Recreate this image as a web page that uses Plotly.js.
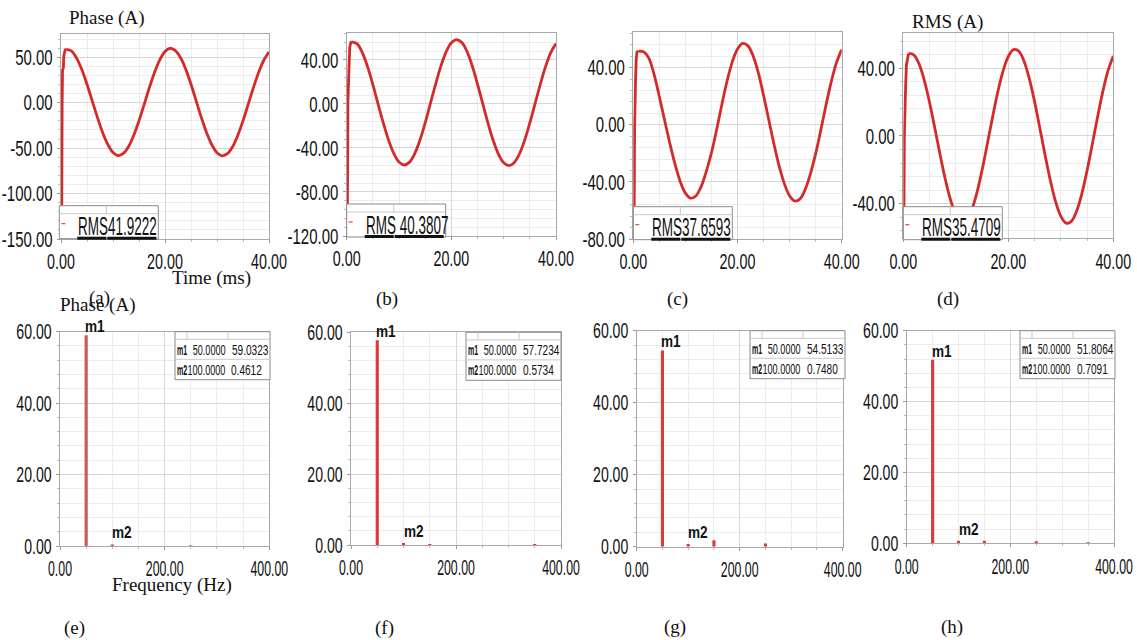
<!DOCTYPE html>
<html><head><meta charset="utf-8">
<script src="https://cdn.plot.ly/plotly-3.0.1.min.js"></script>
<style>html,body{margin:0;padding:0;background:#fff;} #chart{width:1137px;height:640px;}</style>
</head><body><div id="chart"></div>
<script>
// ---------------- DATA ----------------
const timeMs = [1,2,3,4,5,6,7,8,9,10,11,12,13,14,15,16,17,18,19,20,21,22,23,24,25,26,27,28,29,30,31,32,33,34,35,36,37,38,39,40];
const currentA = [58.6,56.9,49.0,36.4,20.2,2.0,-16.2,-32.8,-46.0,-54.8,-58.2,-55.9,-48.3,-35.9,-19.9,-1.9,16.6,33.5,47.1,56.2,59.8,57.3,49.4,36.6,20.2,1.8,-16.5,-33.0,-46.3,-55.1,-58.5,-56.2,-48.5,-36.0,-20.0,-1.9,16.4,33.1,46.6,55.6];
const currentB = [56.4,54.5,46.4,33.6,17.5,-0.3,-17.4,-32.9,-45.0,-52.8,-55.5,-52.9,-45.2,-32.8,-17.2,0.5,18.0,34.3,47.2,55.6,58.4,55.7,47.5,34.4,18.0,0.2,-17.5,-33.2,-45.6,-53.5,-56.1,-53.4,-45.6,-33.1,-17.3,0.3,17.8,33.9,46.6,54.8];
const currentC = [51.5,51.0,46.5,35.0,19.6,3.3,-12.8,-27.6,-39.7,-47.9,-51.4,-49.9,-43.5,-32.8,-19.6,-3.5,14.2,30.6,44.0,53.0,56.9,55.2,48.1,36.3,20.6,3.5,-13.6,-29.0,-41.4,-49.8,-53.4,-51.9,-45.3,-34.4,-20.2,-3.6,14.0,30.2,43.5,52.6];
const currentD = [48.8,48.0,42.6,32.9,19.8,4.7,-10.9,-25.6,-37.8,-46.4,-50.5,-49.6,-43.9,-33.8,-20.3,-4.8,11.1,26.0,38.4,47.0,51.1,50.1,44.2,33.9,20.4,4.8,-11.2,-26.2,-38.7,-47.4,-51.5,-50.5,-44.5,-34.2,-20.5,-4.9,11.2,26.2,38.6,47.3];

const startT_A = [0,0.12,0.22,0.3,0.45,0.55,0.8,1.0];
const startI_A = [0,-150,0,36,38,52,58,58.6];
const startT_B = [0,0.12,0.22,0.3,0.45,0.6,0.8,1.0];
const startI_B = [0,-120,0,30,35,52,56,56.4];
const startT_C = [0,0.15,0.25,0.35,0.45,0.55,0.7,1.0];
const startI_C = [0,-80,0,30,33,45,51,51.5];
const startT_D = [0,0.1,0.2,0.3,0.45,0.6,0.8,1.0];
const startI_D = [0,-60,0,27,30,42,47,48.8];

const rmsText = ['RMS41.9222','RMS 40.3807','RMS37.6593','RMS35.4709'];

const freqE = [50,100,250];          const ampE = [59.0323,0.4612,0.2];
const freqF = [50,100,150,350];      const ampF = [57.7234,0.5734,0.3,0.3];
const freqG = [50,100,150,250];      const ampG = [54.5133,0.7480,1.8,0.9];
const freqH = [50,100,150,250,350];  const ampH = [51.8064,0.7091,0.7,0.6,0.3];

const markerNames = ['m1','m2'];
const markerX = [50.0000,100.0000];

// tick values
const yTicksA = [-150,-100,-50,0,50];
const yTicksB = [-120,-80,-40,0,40];
const yTicksC = [-80,-40,0,40];
const yTicksD = [-40,0,40];
const yTicksFFT = [0,20,40,60];
const xTicksTime = [0,20,40];
const xTicksFreq = [0,200,400];

const panelLetters = ['(a)','(b)','(c)','(d)','(e)','(f)','(g)','(h)'];

// ---------------- LAYOUT ----------------
const W = 1137, H = 640;
const fx = px => px / W;
const fy = py => 1 - py / H;
const fontSans = "'Liberation Sans',Arial,sans-serif";
const fontSerif = "'Liberation Serif','Times New Roman',serif";
const red = '#d42a2a';

const panels = [
  {x0:61,   x1:269,    y0:34,   y1:239,   yr:[-150,75.5], yt:yTicksA,   mdt:10, kind:'t'},
  {x0:346.7,x1:556,    y0:33,   y1:236,   yr:[-120,64.4], yt:yTicksB,   mdt:8,  kind:'t'},
  {x0:633.3,x1:841.7,  y0:32.3, y1:239,   yr:[-80,64.7],  yt:yTicksC,   mdt:8,  kind:'t'},
  {x0:903.3,x1:1113.3, y0:33.3, y1:238.3, yr:[-60.5,60.7],yt:yTicksD,   mdt:8,  kind:'t'},
  {x0:60,   x1:269.3,  y0:331.7,y1:546,   yr:[0,60],      yt:yTicksFFT, mdt:4,  kind:'f'},
  {x0:351,  x1:561,    y0:332.3,y1:545,   yr:[0,60],      yt:yTicksFFT, mdt:4,  kind:'f'},
  {x0:636.7,x1:842.7,  y0:330.7,y1:546.7, yr:[0,60],      yt:yTicksFFT, mdt:4,  kind:'f'},
  {x0:906.7,x1:1114,   y0:330.7,y1:543.3, yr:[0,60],      yt:yTicksFFT, mdt:4,  kind:'f'}
];

const layout = {
  width: W, height: H, margin:{l:0,r:0,t:0,b:0},
  paper_bgcolor:'#fff', plot_bgcolor:'#fff', showlegend:false,
  shapes:[], annotations:[]
};

panels.forEach((p,i)=>{
  const k = i===0 ? '' : String(i+1);
  const isT = p.kind==='t';
  const xt = isT ? xTicksTime : xTicksFreq;
  layout['xaxis'+k] = {
    domain:[fx(p.x0), fx(p.x1)], anchor:'y'+k,
    range: isT ? [0,40] : [0,400],
    tickmode:'array', tickvals:xt, ticktext:xt.map(v=>v.toFixed(2)),
    showline:true, linecolor:'#a8a8a8', linewidth:1, mirror:true,
    ticks:'outside', ticklen:3, tickcolor:'#999',
    showgrid:true, gridcolor:'#d6d6d6', zeroline:false,
    tickfont:{family:fontSans, size:22, color:'#111'}, ticklabeloverflow:'allow',
    minor:{dtick: isT ? 5 : 50, tick0:0, showgrid:true, gridcolor:'#ececec', ticks:'outside', ticklen:2, tickcolor:'#bbb'},
    fixedrange:true, automargin:false
  };
  layout['yaxis'+k] = {
    domain:[fy(p.y1), fy(p.y0)], anchor:'x'+k,
    range:p.yr, tickmode:'array', tickvals:p.yt, ticktext:p.yt.map(v=>v.toFixed(2)),
    showline:true, linecolor:'#a8a8a8', linewidth:1, mirror:true,
    ticks:'outside', ticklen:3, tickcolor:'#999',
    showgrid:true, gridcolor:'#d6d6d6', zeroline:false,
    tickfont:{family:fontSans, size:22, color:'#111'}, ticklabeloverflow:'allow',
    minor:{dtick:p.mdt, tick0:0, showgrid:true, gridcolor:'#ececec', ticks:'outside', ticklen:2, tickcolor:'#bbb'},
    fixedrange:true, automargin:false
  };
});

// ---------------- TRACES ----------------
const traces = [];
const waves = [currentA, currentB, currentC, currentD];
const startsT = [startT_A, startT_B, startT_C, startT_D];
const startsI = [startI_A, startI_B, startI_C, startI_D];
waves.forEach((w,i)=>{
  const k = i===0 ? '' : String(i+1);
  traces.push({type:'scatter', mode:'lines', x:startsT[i], y:startsI[i], xaxis:'x'+k, yaxis:'y'+k,
    line:{color:red, width:2.8}, hoverinfo:'skip'});
  traces.push({type:'scatter', mode:'lines', x:timeMs, y:w, xaxis:'x'+k, yaxis:'y'+k,
    line:{color:red, width:2.8, shape:'spline', smoothing:1}, hoverinfo:'skip'});
});
const ffts = [[freqE,ampE],[freqF,ampF],[freqG,ampG],[freqH,ampH]];
const barColors = ['#cf5858','#dc3a3a','#dc3a3a','#dc3a3a'];
ffts.forEach((f,i)=>{
  const k = String(i+5);
  traces.push({type:'bar', x:f[0], y:f[1], width:6, xaxis:'x'+k, yaxis:'y'+k,
    marker:{color:barColors[i], line:{width:0}}, hoverinfo:'skip'});
});

// ---------------- RMS boxes ----------------
const sh = layout.shapes, an = layout.annotations;
const squeeze = [];   // horizontal squeeze factor for each annotation (narrow font look)
function addAnn(o, f){ an.push(o); squeeze.push(f); }

const rmsBoxes = [[59.3,205.7],[346.7,204],[633.3,206.7],[903.3,206.7]];
rmsBoxes.forEach((b,i)=>{
  const L=b[0], T=b[1], R=L+99, B=T+33;
  sh.push({type:'rect', xref:'paper', yref:'paper', x0:fx(L), x1:fx(R), y0:fy(B), y1:fy(T),
    fillcolor:'#fff', line:{color:'#8a8a8a', width:1}, layer:'above'});
  sh.push({type:'line', xref:'paper', yref:'paper', x0:fx(L), x1:fx(R), y0:fy(T+8), y1:fy(T+8),
    line:{color:'#c8c8c8', width:1}, layer:'above'});
  sh.push({type:'line', xref:'paper', yref:'paper', x0:fx(L+47), x1:fx(L+47), y0:fy(T+8), y1:fy(T),
    line:{color:'#c8c8c8', width:1}, layer:'above'});
  sh.push({type:'line', xref:'paper', yref:'paper', x0:fx(L+2), x1:fx(L+6), y0:fy(T+18), y1:fy(T+18),
    line:{color:red, width:1}, layer:'above'});
  sh.push({type:'rect', xref:'paper', yref:'paper', x0:fx(L+18), x1:fx(L+47), y0:fy(B+1), y1:fy(B-2),
    fillcolor:'#111', line:{width:0}, layer:'above'});
  sh.push({type:'rect', xref:'paper', yref:'paper', x0:fx(L+48), x1:fx(L+97), y0:fy(B+1), y1:fy(B-2),
    fillcolor:'#111', line:{width:0}, layer:'above'});
  addAnn({xref:'paper', yref:'paper', x:fx(L+17), y:fy(T+20.5), xanchor:'left', yanchor:'middle', align:'left',
    text:rmsText[i], showarrow:false, font:{family:fontSans, size:25, color:'#111'}}, 0.54);
});

// ---------------- Marker tables & labels ----------------
const tables = [[175,331.7],[466,332.3],[750,330.7],[1020,330.7]];
ffts.forEach((f,i)=>{
  const k = String(i+5);
  const L=tables[i][0], T=tables[i][1], R=L+95, B=T+48;
  sh.push({type:'rect', xref:'paper', yref:'paper', x0:fx(L), x1:fx(R), y0:fy(B), y1:fy(T),
    fillcolor:'#fff', line:{color:'#8a8a8a', width:1}, layer:'above'});
  sh.push({type:'line', xref:'paper', yref:'paper', x0:fx(L), x1:fx(R), y0:fy(T+7.6), y1:fy(T+7.6),
    line:{color:'#c8c8c8', width:1}, layer:'above'});
  sh.push({type:'line', xref:'paper', yref:'paper', x0:fx(L), x1:fx(R), y0:fy(T+27.6), y1:fy(T+27.6),
    line:{color:'#c8c8c8', width:1}, layer:'above'});
  [12,53].forEach(dx=>sh.push({type:'line', xref:'paper', yref:'paper', x0:fx(L+dx), x1:fx(L+dx), y0:fy(T+7.6), y1:fy(T),
    line:{color:'#c8c8c8', width:1}, layer:'above'}));
  const yVals = [f[1][0], f[1][1]];
  [0,1].forEach(r=>{
    const cy = T + 17.8 + r*20;
    addAnn({xref:'paper', yref:'paper', x:fx(L-0.5), y:fy(cy), xanchor:'left', yanchor:'middle', align:'left',
      text:'<b>'+markerNames[r]+'</b>', showarrow:false, font:{family:fontSans, size:14, color:'#111'}}, 0.5);
    addAnn({xref:'paper', yref:'paper', x:fx(L+52.5), y:fy(cy), xanchor:'right', yanchor:'middle', align:'right',
      text:markerX[r].toFixed(4), showarrow:false, font:{family:fontSans, size:14, color:'#111'}}, 0.65);
    addAnn({xref:'paper', yref:'paper', x:fx(L+54.5), y:fy(cy), xanchor:'left', yanchor:'middle', align:'left',
      text:yVals[r].toFixed(4), showarrow:false, font:{family:fontSans, size:14, color:'#111'}}, 0.72);
  });
  addAnn({xref:'x'+k, yref:'y'+k, x:markerX[0], y:f[1][0], xanchor:'left', yanchor:'bottom', align:'left', xshift:-3, yshift:-3,
    text:'<b>'+markerNames[0]+'</b>', showarrow:false, font:{family:fontSans, size:17, color:'#111'}}, 0.8);
  addAnn({xref:'x'+k, yref:'y'+k, x:markerX[1], y:f[1][1], xanchor:'left', yanchor:'bottom', align:'left', xshift:-2, yshift:0,
    text:'<b>'+markerNames[1]+'</b>', showarrow:false, font:{family:fontSans, size:17, color:'#111'}}, 0.8);
});

// ---------------- Text labels ----------------
const txt = (x,y,t)=>addAnn({xref:'paper', yref:'paper', x:fx(x), y:fy(y), xanchor:'center', yanchor:'middle',
  text:t, showarrow:false, font:{family:fontSerif, size:19, color:'#111'}}, 1);
txt(106,18,'Phase (A)');
txt(947,22,'RMS (A)');
txt(211,278,'Time (ms)');
txt(97,304.5,'Phase (A)');
txt(172,585,'Frequency (Hz)');
const letterPos = [[99,298],[387,299],[677,299],[948,299],[74,628],[384,628],[675,627],[952,627]];
panelLetters.forEach((t,i)=>txt(letterPos[i][0], letterPos[i][1], t));

function squeezeText(el, f){
  if(!el || f===1) return;
  const len = el.getComputedTextLength();
  if(len>0){
    el.setAttribute('textLength', (len*f).toFixed(2));
    el.setAttribute('lengthAdjust', 'spacingAndGlyphs');
  }
}

Plotly.newPlot('chart', traces, layout, {staticPlot:true, displayModeBar:false}).then(gd=>{
  // narrow-font look for tick labels
  for(let i=1;i<=8;i++){
    const sp = i===1 ? 'xy' : ('x'+i+'y'+i);
    const xf = i<=4 ? 0.65 : 0.56;
    const yf = i<=4 ? 0.68 : 0.64;
    gd.querySelectorAll('.subplot.'+sp+' .xaxislayer-above text').forEach(t=>squeezeText(t, xf));
    gd.querySelectorAll('.subplot.'+sp+' .yaxislayer-above text').forEach(t=>squeezeText(t, yf));
  }
  gd.querySelectorAll('g.annotation').forEach(g=>{
    const idx = +g.getAttribute('data-index');
    squeezeText(g.querySelector('text.annotation-text'), squeeze[idx]);
  });
});
</script>
</body></html>
